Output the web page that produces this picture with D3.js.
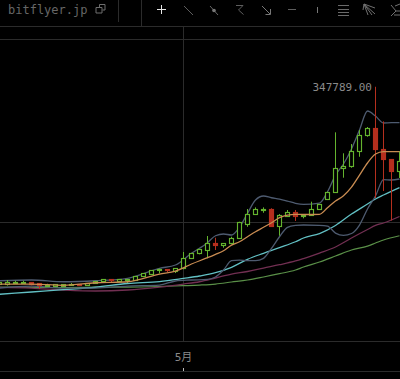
<!DOCTYPE html>
<html><head><meta charset="utf-8">
<script src="https://cdn.jsdelivr.net/npm/d3@7/dist/d3.min.js"></script>
<style>html,body{margin:0;padding:0;background:#000;overflow:hidden}svg{display:block}text{font-family:"DejaVu Sans Mono","Noto Sans CJK JP",monospace}</style>
</head><body><svg id="c" width="400" height="379"></svg>
<script>
// Daily candles, thousand JPY, from 8 Apr 2017 onward
const opens=[132.2,132.2,133.3,132.5,134.4,132.5,129.7,130,130,130.4,132.2,130.8,132.6,134.7,137.7,135.5,136.6,136.6,140.2,143.1,146.8,148.6,146.1,148.9,159.9,165.3,168.6,177,174.1,176.3,181.7,197.8,207.9,212.5,213.9,194.8,206.5,210.6,205.8,207.3,213.4,224.3,232.4,258.2,260.4,276.8,294,302.2,279.4,268.5,254.9];
const highs=[133.9,136.6,135.8,135.8,134.4,132.5,132.5,131.4,131.4,133.3,132.2,132.6,135.2,137.1,137.7,137.4,137.7,140.6,143.5,146.8,149,148.6,149.4,167.2,165.8,169.4,184.7,182.8,176.7,183.9,200.3,214.2,216,216,215,208.7,213.1,213.1,207.9,222.2,219.3,233.1,298,275.1,285.2,300.5,303.8,347.8,310,268.8,277.6];
const lows=[132.2,130.5,133.3,132.5,130.8,126.8,129.7,130,130,130.4,130.8,130.8,132.6,134.7,133.9,135.5,133.3,136.6,140.2,143.1,143.9,145.3,144.2,148.3,159.9,164.7,160.3,169.4,171.9,175.6,181.7,194.8,207.9,210.1,194.8,185,206.5,201.1,204,207.3,213.4,224,232.4,248.4,259.3,271.3,293.2,226.2,233.9,201.6,248.1];
const closes=[133.9,134.4,134.4,134.4,131.9,130.4,131.1,131.4,131.4,132.2,130.8,132.6,135.2,137.1,135.7,137.4,137.7,140.6,143.5,146.8,148.6,146.8,149.4,160.3,165.8,169.4,177,174.1,176.7,182.5,199.2,208.7,214.2,213.6,194.8,207.6,210.6,206.2,207.6,213.9,219.3,232.4,258.7,260.8,276.8,294.7,302.4,279.2,268.1,254.9,265.9];
const startDate=new Date(Date.UTC(2017,3,8));
// Bollinger band and its middle line, sampled at these day offsets
const bandDays=[0,4,8,12,16,20,22,24,26,27,28,29,30,31,32,33,34,35,36,37,38,40,41,42,43,44,45,46,47,48,49,50];
const upperBand=[135.8,136.6,134.7,135.8,138.5,149.4,153,165.8,177.4,185,186.9,185.8,194.2,209.5,224,228.4,226.5,225.1,222.9,220.4,219.3,220.7,233.1,251.3,263.4,279.8,300.5,321.3,315.8,308.2,308.5,308.5];
const lowerBand=[127.8,130,127.8,127.8,130,131.1,135.5,136.6,137.4,139.9,147.5,157.7,158.4,157.7,157.7,160.3,171.2,183.9,194.2,196.2,196.7,196.4,195.6,187.9,185.4,187.4,196.7,214.2,228.4,246.4,245.9,247];
const midBand=[132.2,132.2,130.8,133.6,134.7,143.1,146.4,154.1,161,164.7,168.6,174.8,178.4,183.9,189.4,194.2,199.2,204.7,207.6,208.4,208.2,208.4,215.6,222.9,228.7,238.2,251.3,264.5,274.3,277,277,277];
// Longer moving averages
const maDays=[0,4,8,12,16,20,23,25,27,29,31,33,35,37,38,40,42,44,46,47,48,50];
const maCyan=[121,123.5,126,128.7,132.8,134.9,138.4,141,144.6,150.5,159.2,165.8,172,178.4,182.5,187.4,196.2,208.7,219.6,225.1,229.5,237.5];
const maMaroon=[128.6,127.8,125.7,124.6,125.7,128.9,132.2,134.7,138.8,143.1,145.9,149.7,153.3,157.4,160.1,166.1,172.7,182.5,191.8,196.2,198.9,206];
const maGreen=[128.9,128.6,128.4,128.9,128.9,129.5,130.4,131.1,132.2,134.4,136.6,139.9,143.5,147.5,150.8,156.3,162.8,169.4,173.7,177,180.3,185];
const gridPrices=[400,200];
const peakLabel="347789.00";
const brandLabel="bitflyer.jp";
const monthLabel="5月";

const day=864e5, dateOf=i=>new Date(+startDate+i*day);
const x=d3.scaleUtc().domain([dateOf(0),dateOf(50)]).range([-0.5,399.5]);
const y=d3.scaleLinear().domain([0,400]).range([405,39]);
const svg=d3.select("#c");
const W=400,H=379,grid="#2b2b2b";
svg.append("rect").attr("width",W).attr("height",H).attr("fill","#000");

// grid and frame lines
const hl=svg.append("g").attr("stroke",grid);
const hys=[26.5,...gridPrices.map(p=>Math.round(y(p))+.5),341.5,371.5];
hl.selectAll("line").data(hys).join("line").attr("x1",0).attr("x2",W).attr("y1",d=>d).attr("y2",d=>d);
const mayX=x(new Date(Date.UTC(2017,4,1)));
svg.append("line").attr("x1",mayX).attr("x2",mayX).attr("y1",26).attr("y2",341).attr("stroke",grid);
svg.append("line").attr("x1",mayX).attr("x2",mayX).attr("y1",368).attr("y2",371).attr("stroke","#bbb");
svg.append("line").attr("x1",118.5).attr("x2",118.5).attr("y1",0).attr("y2",22).attr("stroke",grid);
svg.append("line").attr("x1",141.5).attr("x2",141.5).attr("y1",0).attr("y2",26).attr("stroke",grid);

// indicator lines
const mk=(days,vals,col,w)=>{
  const ln=d3.line().x((v,k)=>x(dateOf(days[k]))).y(v=>y(v)).curve(d3.curveMonotoneX);
  svg.append("path").attr("d",ln(vals)).attr("fill","none").attr("stroke",col).attr("stroke-width",w);
};
mk(maDays,maGreen,"#5a9048",1.2);
mk(maDays,maMaroon,"#722f52",1.3);
mk(maDays,maCyan,"#62c0c4",1.3);
mk(bandDays,upperBand,"#4e5b70",1.3);
mk(bandDays,lowerBand,"#4e5b70",1.3);

// candles
const up="#64b32e",down="#b52f1e";
const candles=opens.map((o,i)=>({i,o,h:highs[i],l:lows[i],c:closes[i]}));
const g=svg.append("g").selectAll("g").data(candles).join("g");
const snap=v=>Math.round(v-.5)+.5;
g.append("line").attr("x1",d=>x(dateOf(d.i))).attr("x2",d=>x(dateOf(d.i)))
 .attr("y1",d=>y(d.h)).attr("y2",d=>y(d.l)).attr("stroke",d=>d.c>=d.o?up:down);
g.append("rect").attr("x",d=>x(dateOf(d.i))-2).attr("width",4)
 .attr("y",d=>snap(y(Math.max(d.o,d.c))))
 .attr("height",d=>Math.max(1,snap(y(Math.min(d.o,d.c)))-snap(y(Math.max(d.o,d.c)))))
 .attr("fill",d=>d.c>=d.o?"#000":down).attr("stroke",d=>d.c>=d.o?up:down).attr("stroke-width",1.15);

mk(bandDays,midBand,"#c98c52",1.3);

// labels
svg.append("text").attr("x",8).attr("y",14).attr("font-size",12).attr("fill","#666").text(brandLabel);
svg.append("text").attr("x",372).attr("y",91).attr("text-anchor","end").attr("font-size",11).attr("fill","#8a8a8a").text(peakLabel);
svg.append("text").attr("x",mayX).attr("y",361).attr("text-anchor","middle").attr("font-size",11).attr("fill","#8a8a8a").text(monthLabel);

// toolbar icons
const ic=svg.append("g").attr("fill","none").attr("stroke","#707070");
const icons=[
 ["M99.5 7v-2.5h5.5v5.5h-2.5M96 7.5h6v5.5h-6z","#6e6e6e"],
 ["M157 9.5h9M161.5 5v9","#e6e6e6"],
 ["M184 6l9 9","#5e5e5e"],
 ["M210 6l8 9","#666"],
 ["M236 5.5h7l-4.5 4.5 5 4.5","#5e5e5e"],
 ["M262 6l8 8M270.5 9v5.5h-5","#777"],
 ["M288 9.5h8","#5e5e5e"],
 ["M317.5 7v6","#777"],
 ["M338 5.5h11M338 9.5h11M338 12.5h11M338 15.5h11","#6a6a6a"],
 ["M364 4l11 10M364 4l8 11M364 4l4 11M364 4l11 4M364 4l-1 6","#707070"],
 ["M391 5l5 6 -5 5M395 6l5 -2M396 11l4 0M394 15l6 0","#707070"]
];
icons.forEach(([d,c])=>ic.append("path").attr("d",d).attr("stroke",c));
ic.append("circle").attr("cx",214).attr("cy",10.5).attr("r",1.8).attr("fill","#777").attr("stroke","none");
</script></body></html>
